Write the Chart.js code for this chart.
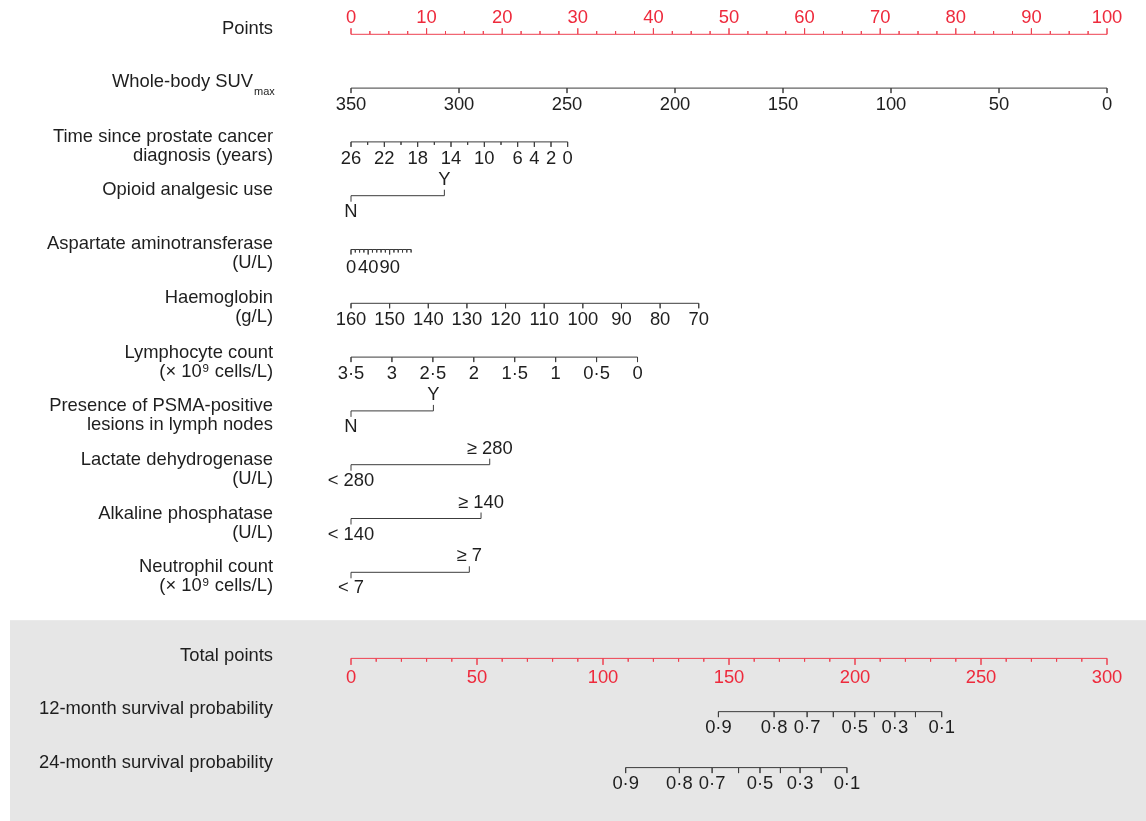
<!DOCTYPE html>
<html>
<head>
<meta charset="utf-8">
<script src="https://cdn.jsdelivr.net/npm/chart.js@4.4.1/dist/chart.umd.min.js"></script>
<style>
  html, body { margin: 0; padding: 0; background: #fff; }
  canvas { display: block; }
</style>
</head>
<body>
<canvas id="nomo" width="1146" height="821"></canvas>
<script>
// ---- data ----
const pointsLabels = [0, 10, 20, 30, 40, 50, 60, 70, 80, 90, 100];
const totalLabels = [0, 50, 100, 150, 200, 250, 300];

const suvValues = [350, 300, 250, 200, 150, 100, 50, 0];
const suvPts = [0, 100];            // points at first / last value

const timeValues = [26, 24, 22, 20, 18, 16, 14, 12, 10, 8, 6, 4, 2, 0];
const timeLabels = [26, 22, 18, 14, 10, 6, 4, 2, 0];
const timePts = [0, 28.66];

const astValues = [0, 10, 20, 30, 40, 50, 60, 70, 80, 90, 100, 110, 120, 130, 140];
const astLabels = [0, 40, 90];
const astPts = [0, 7.95];

const hbValues = [160, 150, 140, 130, 120, 110, 100, 90, 80, 70];
const hbPts = [0, 46.0];

const lymphValues = [3.5, 3, 2.5, 2, 1.5, 1, 0.5, 0];
const lymphPts = [0, 37.9];

const opioidLevels = ['N', 'Y'];
const opioidPts = [0, 12.35];
const psmaLevels = ['N', 'Y'];
const psmaPts = [0, 10.9];
const ldhLevels = ['< 280', '≥ 280'];
const ldhPts = [0, 18.35];
const alpLevels = ['< 140', '≥ 140'];
const alpPts = [0, 17.2];
const neutLevels = ['< 7', '≥ 7'];
const neutPts = [0, 15.65];

const survProbs = [0.9, 0.8, 0.7, 0.6, 0.5, 0.4, 0.3, 0.2, 0.1];
const survLabels = ['0·9', '0·8', '0·7', '', '0·5', '', '0·3', '', '0·1'];
const surv12Total = [145.8, 167.9, 181.0, 191.4, 199.9, 207.7, 215.8, 224.0, 234.4];
const surv24Total = [109.0, 130.3, 143.3, 153.8, 162.3, 170.4, 178.2, 186.6, 196.8];

// ---- layout ----
const ROW_PX = 53.8;      // pixels between rows
const PT_PX = 7.56;       // pixels per point
const LABEL_RIGHT = 273;
const RED = '#ee2a3c', RED_LINE = '#ee4050', INK = '#1e1e1e', AXIS = '#3c3c3c';
const FONT = '"Liberation Sans", Arial, sans-serif';
const FS = '18.4px ';

const row = {
  points: 0, suv: 1, time: 2, opioid: 3, ast: 4, hb: 5, lymph: 6,
  psma: 7, ldh: 8, alp: 9, neut: 10, total: 11.6, s12: 12.59, s24: 13.63
};

const lin = (vals, pts) => v => pts[0] + (v - vals[0]) / (vals[vals.length - 1] - vals[0]) * (pts[1] - pts[0]);
const tot = t => t * 100 / 300;
const L = px => px / ROW_PX;

// polyline for an axis with ticks (dir +1 = ticks down)
function axisPath(xs, r, lens, dir) {
  const order = xs.map((x, i) => i).sort((a, b) => xs[a] - xs[b]);
  const out = [];
  order.forEach(i => {
    out.push({x: xs[i], y: r});
    out.push({x: xs[i], y: r + dir * L(lens[i])});
    out.push({x: xs[i], y: r});
  });
  return out;
}
function bracket(pts, r, len) {
  return [
    {x: pts[0], y: r + L(len)}, {x: pts[0], y: r},
    {x: pts[1], y: r}, {x: pts[1], y: r - L(len)}
  ];
}

// build tick sets
const pointTickVals = [];
for (let v = 0; v <= 100; v += 2.5) pointTickVals.push(v);
const totalTickVals = [];
for (let v = 0; v <= 300; v += 10) totalTickVals.push(v);

const suvX = suvValues.map(lin(suvValues, suvPts));
const timeX = timeValues.map(lin(timeValues, timePts));
const astX = astValues.map(lin(astValues, astPts));
const hbX = hbValues.map(lin(hbValues, hbPts));
const lymphX = lymphValues.map(lin(lymphValues, lymphPts));

const datasets = [];
function add(data, color) {
  datasets.push({data, borderColor: color, borderWidth: 1, pointRadius: 0, fill: false, tension: 0});
}
add(axisPath(pointTickVals, row.points, pointTickVals.map(v => v % 10 === 0 ? 6 : 3.3), -1), RED_LINE);
add(axisPath(suvX, row.suv, suvX.map(() => 5), 1), AXIS);
add(axisPath(timeX, row.time, timeValues.map(v => timeLabels.includes(v) ? 5 : 3), 1), AXIS);
add(bracket(opioidPts, row.opioid, 6), AXIS);
add(axisPath(astX, row.ast, astValues.map(v => astLabels.includes(v) ? 5 : 3), 1), AXIS);
add(axisPath(hbX, row.hb, hbX.map(() => 5), 1), AXIS);
add(axisPath(lymphX, row.lymph, lymphX.map(() => 5), 1), AXIS);
add(bracket(psmaPts, row.psma, 6), AXIS);
add(bracket(ldhPts, row.ldh, 6), AXIS);
add(bracket(alpPts, row.alp, 6), AXIS);
add(bracket(neutPts, row.neut, 6), AXIS);
add(axisPath(totalTickVals.map(tot), row.total, totalTickVals.map(v => v % 50 === 0 ? 6.5 : 3.3), 1), RED_LINE);
add(axisPath(surv12Total.map(tot), row.s12, surv12Total.map(() => 5.5), 1), AXIS);
add(axisPath(surv24Total.map(tot), row.s24, surv24Total.map(() => 5.5), 1), AXIS);

// ---- text ----
const fmt = v => String(v).replace('.', '·');
const tickText = [];
function texts(xs, labels, r, dy, color) {
  xs.forEach((x, i) => { if (labels[i] !== '') tickText.push({x, r, dy, t: String(labels[i]), color}); });
}
texts(pointsLabels, pointsLabels, row.points, -16, RED);
texts(suvX, suvValues, row.suv, 17, INK);
texts(timeLabels.map(lin(timeValues, timePts)), timeLabels, row.time, 17.5, INK);
texts(astLabels.map(lin(astValues, astPts)), astLabels, row.ast, 18, INK);
texts(hbX, hbValues, row.hb, 17, INK);
texts(lymphX, lymphValues.map(fmt), row.lymph, 17, INK);
[[opioidLevels, opioidPts, row.opioid], [psmaLevels, psmaPts, row.psma],
 [ldhLevels, ldhPts, row.ldh], [alpLevels, alpPts, row.alp], [neutLevels, neutPts, row.neut]]
  .forEach(([lv, p, r]) => {
    tickText.push({x: p[0], r, dy: 16, t: lv[0], color: INK});
    tickText.push({x: p[1], r, dy: -16, t: lv[1], color: INK});
  });
texts(totalLabels.map(tot), totalLabels, row.total, 19.5, RED);
texts(surv12Total.map(tot), survLabels, row.s12, 16.5, INK);
texts(surv24Total.map(tot), survLabels, row.s24, 16.5, INK);

const leftLabels = [
  {r: row.points, lines: ['Points'], dy: -5},
  {r: row.suv, lines: ['Whole-body SUV'], dy: -6, sub: 'max'},
  {r: row.time, lines: ['Time since prostate cancer', 'diagnosis (years)'], dy: -4.5},
  {r: row.opioid, lines: ['Opioid analgesic use'], dy: -5.5},
  {r: row.ast, lines: ['Aspartate aminotransferase', '(U/L)'], dy: -5.5},
  {r: row.hb, lines: ['Haemoglobin', '(g/L)'], dy: -5.5},
  {r: row.lymph, lines: ['Lymphocyte count', '(× 10⁹ cells/L)'], dy: -4.5},
  {r: row.psma, lines: ['Presence of PSMA-positive', 'lesions in lymph nodes'], dy: -4.5},
  {r: row.ldh, lines: ['Lactate dehydrogenase', '(U/L)'], dy: -5},
  {r: row.alp, lines: ['Alkaline phosphatase', '(U/L)'], dy: -5},
  {r: row.neut, lines: ['Neutrophil count', '(× 10⁹ cells/L)'], dy: -5},
  {r: row.total, lines: ['Total points'], dy: -2.5},
  {r: row.s12, lines: ['12-month survival probability'], dy: -3},
  {r: row.s24, lines: ['24-month survival probability'], dy: -4.5}
];

const nomoText = {
  id: 'nomoText',
  beforeDraw(chart) {
    const ctx = chart.ctx;
    const ys = chart.scales.y;
    ctx.save();
    ctx.fillStyle = '#e6e6e6';
    const top = ys.getPixelForValue(10.89);
    ctx.fillRect(10, top, chart.width - 10, chart.height - top);
    ctx.restore();
  },
  afterDatasetsDraw(chart) {
    const ctx = chart.ctx;
    const xs = chart.scales.x, ys = chart.scales.y;
    ctx.save();
    ctx.textBaseline = 'middle';
    ctx.font = FS + FONT;
    ctx.textAlign = 'center';
    tickText.forEach(o => {
      ctx.fillStyle = o.color;
      ctx.fillText(o.t, xs.getPixelForValue(o.x), ys.getPixelForValue(o.r) + o.dy);
    });
    ctx.fillStyle = INK;
    leftLabels.forEach(o => {
      const y0 = ys.getPixelForValue(o.r) + o.dy;
      o.lines.forEach((ln, i) => {
        ctx.font = FS + FONT;
        if (o.sub) {
          ctx.textAlign = 'right';
          ctx.fillText(ln, LABEL_RIGHT - 20, y0);
          ctx.font = '11px ' + FONT;
          ctx.textAlign = 'left';
          ctx.fillText(o.sub, LABEL_RIGHT - 19, y0 + 10);
        } else {
          ctx.textAlign = 'right';
          ctx.fillText(ln, LABEL_RIGHT, y0 + i * 19);
        }
      });
    });
    ctx.restore();
  }
};

const ctx = document.getElementById('nomo').getContext('2d');
const chart = new Chart(ctx, {
  type: 'line',
  data: {datasets},
  options: {
    responsive: false,
    animation: false,
    devicePixelRatio: 1,
    events: [],
    layout: {padding: 0},
    plugins: {legend: {display: false}, tooltip: {enabled: false}, title: {display: false}},
    scales: {
      x: {type: 'linear', display: false, min: -351 / PT_PX, max: (1146 - 351) / PT_PX},
      y: {type: 'linear', display: false, reverse: true,
          min: -34.3 / ROW_PX, max: (821 - 34.3) / ROW_PX}
    },
    elements: {point: {radius: 0}, line: {tension: 0}}
  },
  plugins: [nomoText]
});
</script>
</body>
</html>
